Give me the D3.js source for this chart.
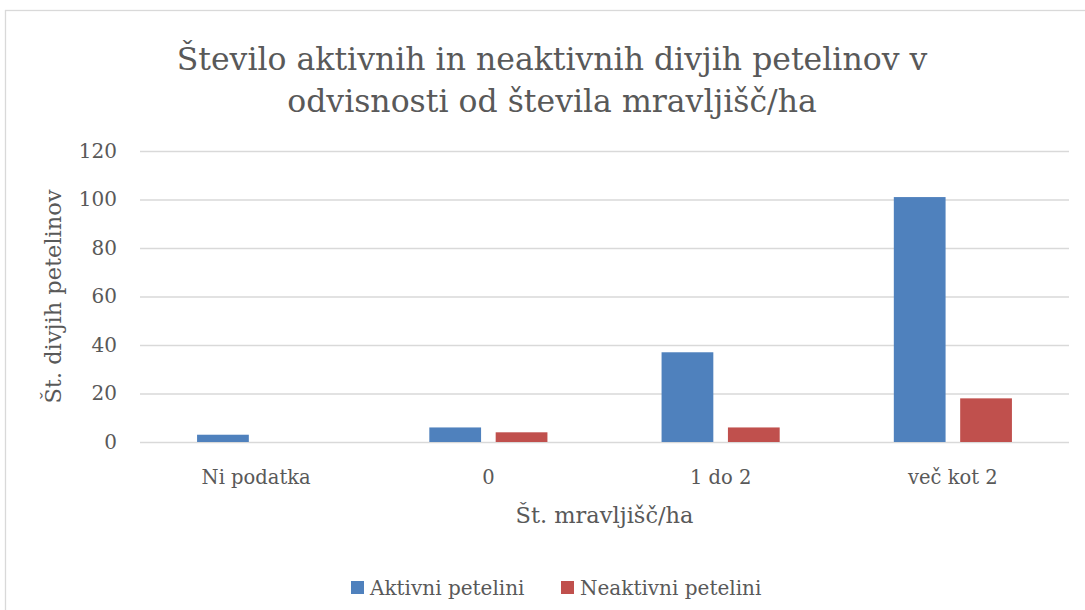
<!DOCTYPE html>
<html>
<head>
<meta charset="utf-8">
<script src="https://cdn.jsdelivr.net/npm/d3@7"></script>
<style>
  body { margin: 0; background: #fff; }
  text { font-family: "DejaVu Serif", serif; fill: #595959; }
</style>
</head>
<body>
<div id="chart"></div>
<script>
// Data
var categories = ["Ni podatka", "0", "1 do 2", "več kot 2"];
var seriesNames = ["Aktivni petelini", "Neaktivni petelini"];
var aktivni = [3, 6, 37, 101];
var neaktivni = [0, 4, 6, 18];
var yTicks = [0, 20, 40, 60, 80, 100, 120];
var colors = ["#4F81BD", "#C0504D"];

var svgWidth = 1085;
var svgHeight = 610;
var margin = {top: 151, right: 16, bottom: 168, left: 140};
var width = svgWidth - margin.left - margin.right;
var height = svgHeight - margin.top - margin.bottom;

var svg = d3.select("#chart").append("svg")
  .attr("width", svgWidth).attr("height", svgHeight);

// chart area border (runs off the right / bottom of the picture)
svg.append("rect")
  .attr("x", 5.5).attr("y", 10.5)
  .attr("width", 1200).attr("height", 700)
  .attr("fill", "none").attr("stroke", "#D9D9D9").attr("stroke-width", 1.3);

// Title
var title = svg.append("text")
  .attr("text-anchor", "middle")
  .attr("font-size", "31.5px");
title.append("tspan").attr("x", 552).attr("y", 70)
  .text("Število aktivnih in neaktivnih divjih petelinov v");
title.append("tspan").attr("x", 552).attr("y", 112)
  .text("odvisnosti od števila mravljišč/ha");

var chartGroup = svg.append("g")
  .attr("transform", `translate(${margin.left}, ${margin.top})`);

// Scales
var x0 = d3.scaleBand().domain(categories).range([0, width]);
var x1 = d3.scaleBand().domain(seriesNames)
  .range([0, x0.bandwidth()])
  .paddingInner(0.22).paddingOuter(0.86);
var yScale = d3.scaleLinear().domain([0, 120]).range([height, 0]);

// Y axis with gridlines
var yAxis = d3.axisLeft(yScale)
  .tickValues(yTicks)
  .tickSize(-width)
  .tickPadding(23);

var yAxisDraw = chartGroup.append("g").call(yAxis);
yAxisDraw.select(".domain").remove();
yAxisDraw.selectAll(".tick line")
  .attr("stroke", "#D9D9D9").attr("stroke-width", 1.3);
yAxisDraw.selectAll(".tick text")
  .attr("font-size", "20px")
  .attr("font-family", "DejaVu Serif, serif")
  .attr("fill", "#595959");

// Bars
var rows = categories.map(function(c, i) {
  return {cat: c, values: [aktivni[i], neaktivni[i]]};
});

var groups = chartGroup.selectAll(".grp")
  .data(rows).enter().append("g")
  .attr("class", "grp")
  .attr("transform", d => `translate(${x0(d.cat)}, 0)`);

groups.selectAll("rect")
  .data(d => d.values.map((v, j) => ({series: seriesNames[j], value: v, j: j})))
  .enter().append("rect")
  .attr("x", d => x1(d.series))
  .attr("width", x1.bandwidth())
  .attr("y", d => yScale(d.value))
  .attr("height", d => height - yScale(d.value))
  .attr("fill", d => colors[d.j]);

// Category labels
var xAxis = d3.axisBottom(x0).tickSize(0).tickPadding(28);
var xAxisDraw = chartGroup.append("g")
  .attr("transform", `translate(0, ${height})`)
  .call(xAxis);
xAxisDraw.select(".domain").remove();
xAxisDraw.selectAll(".tick text")
  .attr("font-size", "19.5px")
  .attr("font-family", "DejaVu Serif, serif")
  .attr("fill", "#595959");

// Axis titles
chartGroup.append("text")
  .attr("x", width / 2)
  .attr("y", height + 81)
  .attr("text-anchor", "middle")
  .attr("font-size", "22.5px")
  .text("Št. mravljišč/ha");

chartGroup.append("g")
  .attr("transform", `translate(${61 - margin.left}, ${height / 2}) rotate(-90)`)
  .append("text")
  .attr("text-anchor", "middle")
  .attr("font-size", "22.5px")
  .text("Št. divjih petelinov");

// Legend
var legendX = [351, 561];
var legend = svg.selectAll(".legend")
  .data(seriesNames).enter().append("g")
  .attr("class", "legend")
  .attr("transform", (d, i) => `translate(${legendX[i]}, 581)`);
legend.append("rect")
  .attr("width", 13).attr("height", 13)
  .attr("fill", (d, i) => colors[i]);
legend.append("text")
  .attr("x", 19).attr("y", 14)
  .attr("font-size", "20px")
  .text(d => d);
</script>
</body>
</html>
